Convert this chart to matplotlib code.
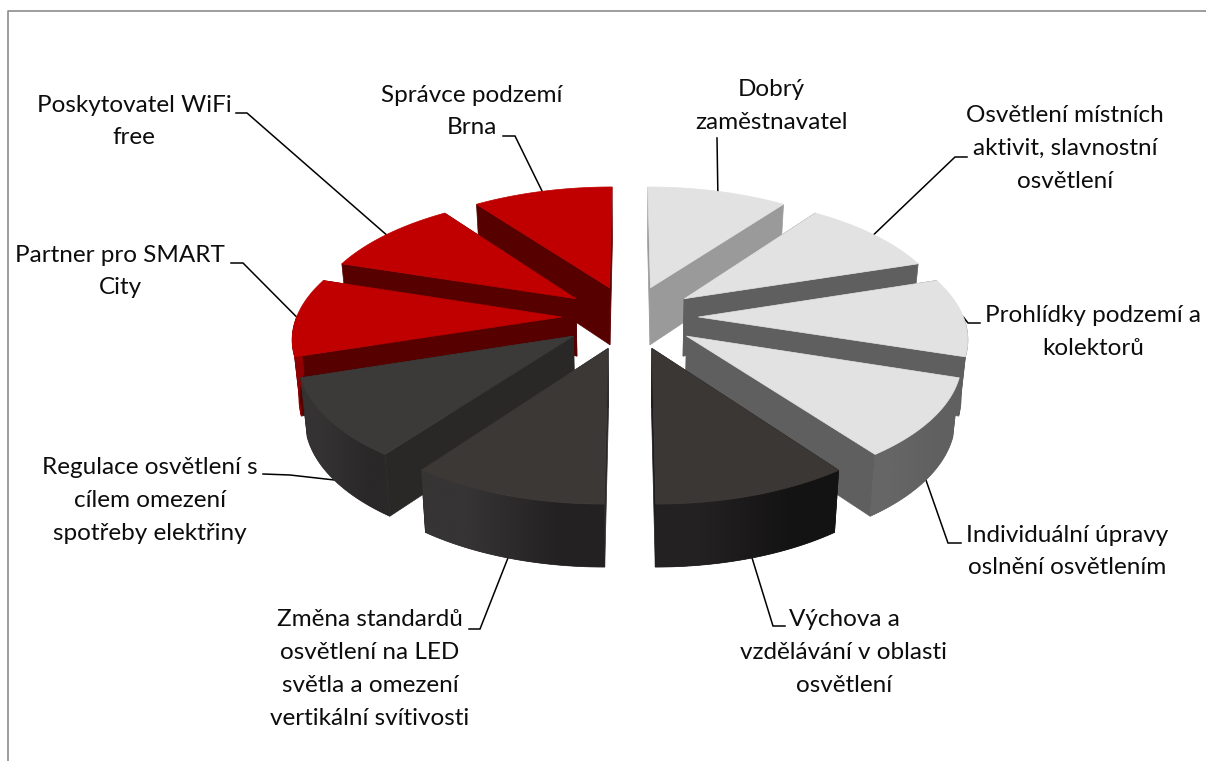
import numpy as np
import matplotlib
matplotlib.use("Agg")
import matplotlib.pyplot as plt
from matplotlib.colors import to_rgb
from matplotlib.patches import Polygon

# ten equal shares, clockwise from 12 o'clock
labels = [
    "Dobrý\nzaměstnavatel",
    "Osvětlení místních\naktivit, slavnostní\nosvětlení",
    "Prohlídky podzemí a\nkolektorů",
    "Individuální úpravy\noslnění osvětlením",
    "Výchova a\nvzdělávání v oblasti\nosvětlení",
    "Změna standardů\nosvětlení na LED\nsvětla a omezení\nvertikální svítivosti",
    "Regulace osvětlení s\ncílem omezení\nspotřeby elektřiny",
    "Partner pro SMART\nCity",
    "Poskytovatel WiFi\nfree",
    "Správce podzemí\nBrna",
]
values = [10, 10, 10, 10, 10, 10, 10, 10, 10, 10]

top_colors = ["#E2E2E2", "#E2E2E2", "#E2E2E2", "#E2E2E2", "#3B3735",
              "#3B3836", "#3C3A38", "#C00000", "#C00000", "#C00000"]
side_colors = ["#9A9A9A", "#5F5F5F", "#5F5F5F", "#5F5F5F", "#1C1A1A",
               "#2A2828", "#2A2827", "#570000", "#570000", "#570000"]
rim_left = ["#9A9A9A", "#6A6A6A", "#5F5F5F", "#666666", "#232121",
            "#363434", "#343232", "#900000", "#800000", "#800000"]
rim_right = ["#9A9A9A", "#6A6A6A", "#5F5F5F", "#606060", "#141313",
             "#232121", "#2A2828", "#900000", "#800000", "#800000"]

# center x, y of the first line
label_pos = [(771, 90), (1065, 116), (1093, 316), (1067, 535), (844, 620),
             (370, 620), (150, 468), (120, 255), (134, 105), (472, 95)]
# elbow and end of each leader, from the slice outwards
elbows = [[(717, 138)], [(955, 157), (967, 157)],
          [(968, 323), (980, 323)], [(948, 543), (961, 543)],
          [(773, 626), (785, 626)], [(480, 629), (469, 629)],
          [(290, 475), (263, 474)], [(243, 263), (231, 263)],
          [(247, 113), (236, 113)], [(515, 136), (503, 136)]]

CX, CY = 630, 317
A, B, K = 265, 123.2, 0.1445
EXPLODE = 0.258


def project(x, z, bottom=False):
    w = 1 + K * z
    sx = A * x / w
    sy = -B * z / w
    if bottom:
        sx *= 0.98
        sy += 58 - 4 * z
    return CX + sx, CY + sy


fig = plt.figure(figsize=(12.06, 7.61), dpi=100)
ax = fig.add_axes([0, 0, 1, 1])

ax.plot([8, 8, 1206], [761, 11, 11], color="#8C8C8C", lw=1.2)

edges = np.cumsum([0] + values) / sum(values) * 2 * np.pi
mids = (edges[:-1] + edges[1:]) / 2

# back slices first so the front ones cover them
order = sorted(range(len(values)), key=lambda i: np.cos(mids[i]), reverse=True)
z = 1
for i in order:
    t0, t1, mid = edges[i], edges[i + 1], mids[i]
    ox, oz = EXPLODE * np.sin(mid), EXPLODE * np.cos(mid)
    t = np.linspace(t0, t1, 60)
    xs, zs = np.sin(t) + ox, np.cos(t) + oz

    # the two cut faces
    for px, pz in [(xs[0], zs[0]), (xs[-1], zs[-1])]:
        quad = [project(ox, oz), project(px, pz),
                project(px, pz, True), project(ox, oz, True)]
        ax.fill(*zip(*quad), color=side_colors[i], lw=0.5, zorder=z)
        z += 1

    # outer wall, only the part that faces the viewer
    front = np.cos(t) < 0.02
    if front.sum() > 1:
        upper = [project(a, b) for a, b in zip(xs[front], zs[front])]
        lower = [project(a, b, True) for a, b in zip(xs[front], zs[front])]
        rim = upper + lower[::-1]
        c0, c1 = np.array(to_rgb(rim_left[i])), np.array(to_rgb(rim_right[i]))
        ax.fill(*zip(*rim), color=(c0 + c1) / 2, lw=0.5, zorder=z)
        rx, ry = zip(*rim)
        im = ax.imshow([[c0, c1]], extent=(min(rx), max(rx), max(ry), min(ry)),
                       aspect="auto", interpolation="bilinear", zorder=z + 0.5)
        im.set_clip_path(Polygon(rim, transform=ax.transData))
        z += 1

    # top face
    outline = [project(ox, oz)] + [project(a, b) for a, b in zip(xs, zs)]
    ax.fill(*zip(*outline), color=top_colors[i], lw=0.5, zorder=z)
    z += 1

for i, text in enumerate(labels):
    mid = mids[i]
    gx = (1 + EXPLODE) * np.sin(mid)
    gz = (1 + EXPLODE) * np.cos(mid)
    # leader starts on the visible rim of the slice
    start = project(gx, gz, bottom=np.cos(mid) < -0.1)
    pts = [start] + elbows[i]
    ax.plot(*zip(*pts), color="black", lw=1.1, zorder=0, solid_joinstyle="miter")
    cx, y0 = label_pos[i]
    for k, line in enumerate(text.split("\n")):
        ax.text(cx, y0 + k * 32.8, line, ha="center", va="center",
                family="Lato", fontsize=17.5, color="#0D0D0D", zorder=500)

ax.set_xlim(0, 1206)
ax.set_ylim(761, 0)
ax.axis("off")

fig.savefig("out.png", dpi=100, facecolor="white")
